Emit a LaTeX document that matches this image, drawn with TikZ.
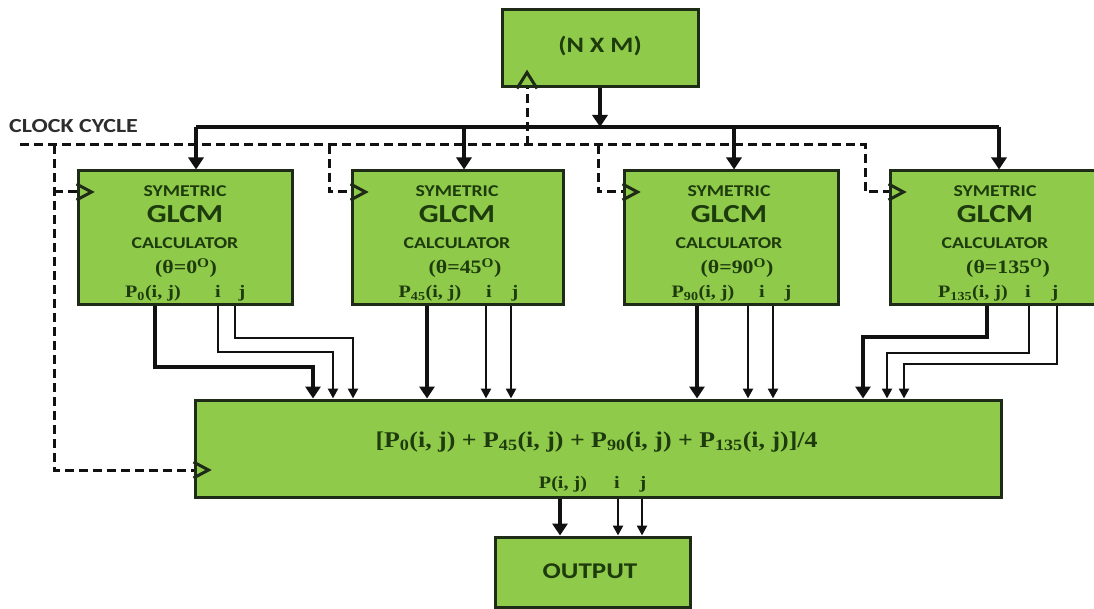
\documentclass[tikz,border=0pt]{standalone}
\usepackage{fontspec}
\usetikzlibrary{arrows.meta,calc}
\newfontfamily\lblfont[FakeStretch=1.2]{Carlito}
\newfontfamily\mthfont[FakeStretch=1.15]{Liberation Serif}
\definecolor{boxgreen}{HTML}{8FCA4B}
\definecolor{edge}{HTML}{1E2B16}
\definecolor{ink}{HTML}{1D3B0C}
\definecolor{wire}{HTML}{111111}
\definecolor{clocktext}{HTML}{2E2E2E}

\begin{document}
\begin{tikzpicture}[x=1pt,y=-1pt,
  blk/.style={draw=edge,line width=3pt,fill=boxgreen,inner sep=0pt},
  lbl/.style={text=ink,inner sep=0pt,anchor=base,font=\lblfont\bfseries\fontsize{16.5}{18}\selectfont},
  big/.style={lbl,font=\lblfont\bfseries\fontsize{26}{28}\selectfont},
  mth/.style={text=ink,inner sep=0pt,anchor=base,font=\mthfont\bfseries\fontsize{17.5}{19}\selectfont},
  bus/.style={draw=wire,line width=4.5pt,line cap=square},
  fat/.style={draw=wire,line width=4.5pt,-{Triangle[length=12pt,width=15pt]}},
  narrow/.style={draw=wire,line width=2.6pt,-{Triangle[length=10pt,width=10pt]}},
  clk/.style={draw=wire,line width=3pt,dash pattern=on 9pt off 5pt},
  tri/.style={draw=edge,line width=3pt,line join=miter}
]
\fill[white] (0,0) rectangle (1094,609);
\useasboundingbox (0,0) rectangle (1094,609);

% ---------- blocks ----------
\node[blk,minimum width=196pt,minimum height=77pt]  (nxm) at (600,48.5) {};
\node[blk,minimum width=214pt,minimum height=134pt] (g1)  at (185,238) {};
\node[blk,minimum width=211pt,minimum height=134pt] (g2)  at (457.5,238) {};
\node[blk,minimum width=214pt,minimum height=134pt] (g3)  at (731,238) {};
\node[blk,minimum width=214pt,minimum height=134pt] (g4)  at (997,238) {};
\node[blk,minimum width=806pt,minimum height=97pt]  (avg) at (598,448.5) {};
\node[blk,minimum width=195pt,minimum height=70pt]  (out) at (592.5,572) {};

% ---------- labels ----------
\node[lbl,font=\lblfont\bfseries\fontsize{22}{24}\selectfont] (nxmtxt) at (600,53) {(N X M)};
\node[lbl,font=\lblfont\bfseries\fontsize{22.5}{24}\selectfont] (outtxt) at (590,578) {OUTPUT};
\node[lbl,text=clocktext,anchor=base west,font=\lblfont\bfseries\fontsize{20}{22}\selectfont] (clocklbl) at (9,133) {CLOCK CYCLE};

\foreach \n/\cx/\tx/\px/\ix/\jx/\a in {1/185/186/153/218/242/0, 2/457/465/430/489/515/45, 3/729/737/703/762/788/90, 4/995/1008/973/1028/1055/135}{
  \node[lbl] (sym\n)  at (\cx,197) {SYMETRIC};
  \node[big] (glcm\n) at (\cx,223) {GLCM};
  \node[lbl] (calc\n) at (\cx,249) {CALCULATOR};
  \node[mth,font=\mthfont\bfseries\fontsize{19}{21}\selectfont] (ang\n) at (\tx,274) {(θ=\a\textsuperscript{O})};
  \node[mth] (pij\n)  at (\px,298) {P\textsubscript{\a}(i, j)};
  \node[mth] (iout\n) at (\ix,298) {i};
  \node[mth] (jout\n) at (\jx,298) {j};
}

\node[mth,font=\mthfont\bfseries\fontsize{22.5}{25}\selectfont] (avgtxt) at (596.5,447)
  {[P\textsubscript{0}(i, j) + P\textsubscript{45}(i, j) + P\textsubscript{90}(i, j) + P\textsubscript{135}(i, j)]/4};
\node[mth] (pavg) at (563,488) {P(i, j)};
\node[mth] (iavg) at (617,488) {i};
\node[mth] (javg) at (643,488) {j};

% ---------- image data bus ----------
\coordinate (t1) at (196,127);
\coordinate (t2) at (464,127);
\coordinate (t3) at (734,127);
\coordinate (t4) at (999,127);
\draw[bus] (t1) -- (t4);
\draw[fat] (nxm.south) -- (nxm.south |- t1);
\foreach \k in {1,...,4} \draw[fat] (t\k) -- (t\k |- g\k.north);

% ---------- clock distribution ----------
\coordinate (ck) at (20,145);
\coordinate (d0) at (54,145);
\coordinate (d2) at (329,145);
\coordinate (d3) at (598,145);
\coordinate (d4) at (865,145);
\coordinate (dt) at (527,145);
\coordinate (k1) at ($(g1.west)+(0,-46)$);
\coordinate (k2) at ($(g2.west)+(0,-46)$);
\coordinate (k3) at ($(g3.west)+(0,-46)$);
\coordinate (k4) at ($(g4.west)+(0,-46)$);
\coordinate (ka) at ($(avg.west)+(0,21.5)$);
\coordinate (kt) at (dt |- nxm.south);
\draw[clk] (ck) -- (d4) |- (k4);
\draw[clk] (d0) |- (ka);
\draw[clk] (d0 |- k1) -- (k1);
\draw[clk] (d2) |- (k2);
\draw[clk] (d3) |- (k3);
\draw[clk] (dt) -- (kt);
\foreach \k in {k1,k2,k3,k4,ka}
  \draw[tri] ($(\k)+(0,-8)$) -- ($(\k)+(15,0)$) -- ($(\k)+(0,8)$);
\draw[tri] ($(kt)+(-10,0)$) -- ($(kt)+(0,-16)$) -- ($(kt)+(10,0)$);

% ---------- GLCM outputs into the averaging block ----------
\coordinate (e1p) at (313,367);
\coordinate (e1i) at (333,352);
\coordinate (e1j) at (353,338);
\draw[fat]    ($(g1.south)+(-30,0)$) |- (e1p) -- (e1p |- avg.north);
\draw[narrow] ($(g1.south)+(33,0)$)  |- (e1i) -- (e1i |- avg.north);
\draw[narrow] ($(g1.south)+(50,0)$)  |- (e1j) -- (e1j |- avg.north);

\coordinate (s2p) at ($(g2.south)+(-30.5,0)$);
\coordinate (s2i) at ($(g2.south)+(28.5,0)$);
\coordinate (s2j) at ($(g2.south)+(53.5,0)$);
\draw[fat]    (s2p) -- (s2p |- avg.north);
\draw[narrow] (s2i) -- (s2i |- avg.north);
\draw[narrow] (s2j) -- (s2j |- avg.north);

\coordinate (s3p) at ($(g3.south)+(-34,0)$);
\coordinate (s3i) at ($(g3.south)+(17,0)$);
\coordinate (s3j) at ($(g3.south)+(42,0)$);
\draw[fat]    (s3p) -- (s3p |- avg.north);
\draw[narrow] (s3i) -- (s3i |- avg.north);
\draw[narrow] (s3j) -- (s3j |- avg.north);

\coordinate (e4p) at (863,337);
\coordinate (e4i) at (887,353);
\coordinate (e4j) at (904,364);
\draw[fat]    ($(g4.south)+(-10,0)$) |- (e4p) -- (e4p |- avg.north);
\draw[narrow] ($(g4.south)+(32,0)$)  |- (e4i) -- (e4i |- avg.north);
\draw[narrow] ($(g4.south)+(60,0)$)  |- (e4j) -- (e4j |- avg.north);

% ---------- averaged result to output ----------
\coordinate (sop) at ($(avg.south)+(-38,0)$);
\coordinate (soi) at ($(avg.south)+(20,0)$);
\coordinate (soj) at ($(avg.south)+(44,0)$);
\draw[fat]    (sop) -- (sop |- out.north);
\draw[narrow] (soi) -- (soi |- out.north);
\draw[narrow] (soj) -- (soj |- out.north);
\end{tikzpicture}
\end{document}
